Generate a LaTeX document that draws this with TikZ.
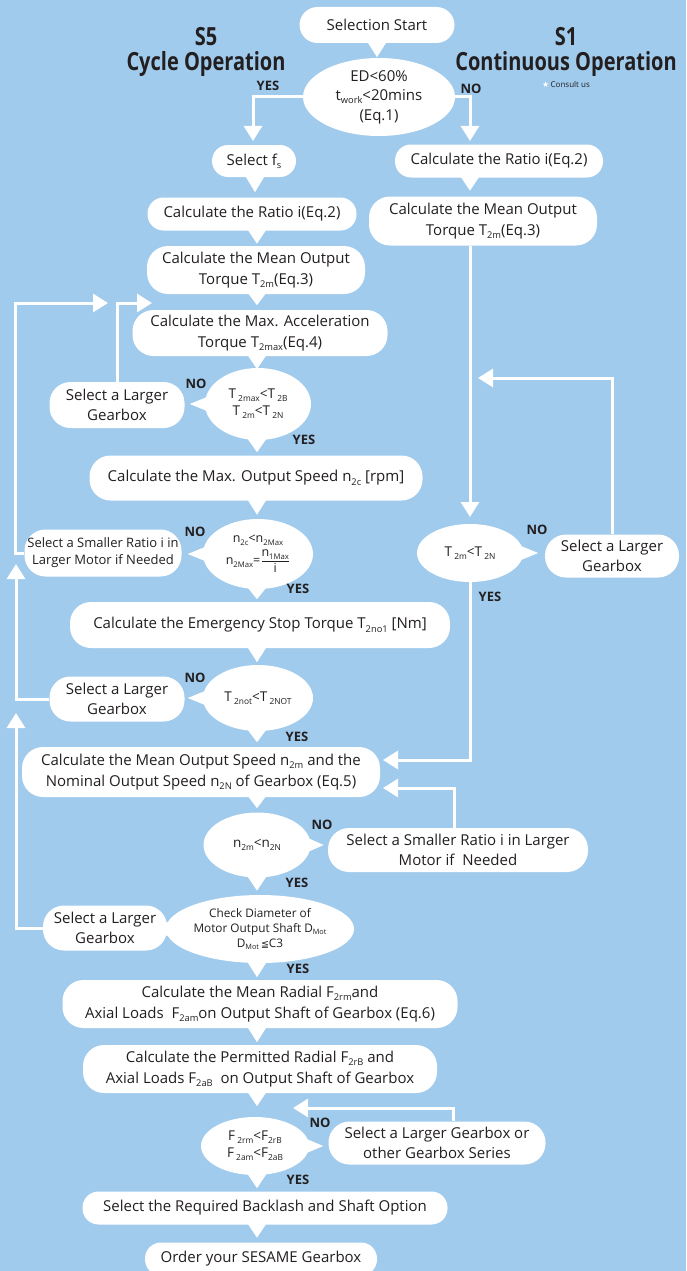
\documentclass[tikz,border=0pt]{standalone}
\usepackage{fontspec}
\usepackage{graphicx}
\setmainfont{Open Sans}
\newfontfamily\symfont{DejaVu Sans}
\usetikzlibrary{shapes.geometric,arrows.meta,calc}
\definecolor{bg}{RGB}{160,203,237}
\definecolor{ink}{RGB}{35,31,32}
\newcommand\lsub[1]{\raisebox{-0.4ex}{\scalebox{0.62}{#1}}}
\newcommand\pdn[3]{\fill[white] ($(#1.south -| #2)+(-12,-5)$) -- ($(#1.south -| #2)+(12,-5)$) -- ($(#1.south -| #2)+(0,#3)$) -- cycle;}
\newcommand\plt[2]{\fill[white] ($(#1.west)+(12,-11)$) -- ($(#1.west)+(12,11)$) -- ($(#1.west)+(-#2,0)$) -- cycle;}
\newcommand\prt[2]{\fill[white] ($(#1.east)+(-12,-11)$) -- ($(#1.east)+(-12,11)$) -- ($(#1.east)+(#2,0)$) -- cycle;}
\begin{document}
\begin{tikzpicture}[x=1pt,y=-1pt,
  pill/.style={rectangle, rounded corners=16pt, fill=white, text=ink, align=center, inner sep=0pt, font=\fontsize{15}{20.5}\selectfont},
  pillB/.style={pill, rounded corners=21pt},
  dec/.style={ellipse, fill=white, text=ink, align=center, inner sep=0pt, font=\fontsize{13.5}{17}\selectfont},
  lab/.style={text=ink, font=\bfseries\fontsize{13}{16}\selectfont, inner sep=0pt},
  ttl/.style={text=ink, font=\bfseries\fontsize{25}{25}\selectfont, inner sep=0pt, align=center},
  conn/.style={draw=white, line width=3pt},
  arr/.style={conn, -{Triangle[length=15pt,width=18pt]}}]
\fill[bg] (0,0) rectangle (686,1271);
\useasboundingbox (0,0) rectangle (686,1271);
\coordinate (cx) at (257,0);
\coordinate (cs) at (377,0);
\coordinate (cr) at (470,0);
\coordinate (cf) at (255,0);

% titles
\node[ttl] (s5) at (206,52) {\scalebox{0.8}[1]{S5}\\\scalebox{0.8}[1]{Cycle Operation}};
\node[ttl] (s1) at (566,52) {\scalebox{0.8}[1]{S1}\\\scalebox{0.8}[1]{Continuous Operation}};
\node[inner sep=0pt, font=\fontsize{8}{9}\selectfont, text=ink] (cons) at (566,85) {{\symfont\color{white}★}\,Consult us};

% left column / top
\node[pill, minimum width=155pt, minimum height=36pt, rounded corners=18pt] (start) at (377,25) {Selection Start};
\node[dec, minimum width=152pt, minimum height=78pt, font=\fontsize{15}{19.5}\selectfont] (e1) at (379,97) {ED<60\%\\t\lsub{work}<20mins\\(Eq.1)};
\node[pill, minimum width=84pt, minimum height=32pt] (fs) at (254,161) {Select f\lsub{s}};
\node[pill, minimum width=208pt, minimum height=33pt] (ratioR) at (499,161) {Calculate the Ratio i(Eq.2)};
\node[pill, minimum width=209pt, minimum height=33pt] (ratioL) at (252,214) {Calculate the Ratio i(Eq.2)};
\node[pillB, minimum width=228pt, minimum height=49pt] (meanR) at (483,221) {Calculate the Mean Output\\Torque T\lsub{2m}(Eq.3)};
\node[pillB, minimum width=218pt, minimum height=48pt] (meanL) at (256,270) {Calculate the Mean Output\\Torque T\lsub{2m}(Eq.3)};
\node[pillB, minimum width=255pt, minimum height=46pt] (maxacc) at (260,333) {Calculate the Max. Acceleration\\Torque T\lsub{2max}(Eq.4)};
\node[dec, minimum width=106pt, minimum height=72pt] (d1) at (258,404) {T\,\lsub{2max}<T\,\lsub{2B}\\T\,\lsub{2m}<T\,\lsub{2N}};
\node[pillB, minimum width=135pt, minimum height=46pt] (lg1) at (117,405) {Select a Larger\\Gearbox};
\node[pillB, minimum width=333pt, minimum height=45pt] (maxspd) at (256,478) {Calculate the Max. Output Speed n\lsub{2c} [rpm]};
\node[dec, minimum width=110pt, minimum height=70pt, font=\fontsize{12.5}{15}\selectfont] (d2) at (258,554) {n\lsub{2c}<n\lsub{2Max}\\[3pt]n\lsub{2Max}=$\displaystyle\frac{\hbox{n\lsub{1Max}}}{\hbox{i}}$};
\node[pillB, minimum width=157pt, minimum height=47pt, font=\fontsize{13}{17}\selectfont] (sr1) at (103,553) {Select a Smaller Ratio i in\\Larger Motor if Needed};
\node[pillB, minimum width=380pt, minimum height=46pt] (emst) at (260,625) {Calculate the Emergency Stop Torque T\lsub{2no1} [Nm]};
\node[dec, minimum width=110pt, minimum height=66pt] (d3) at (258,698) {T\,\lsub{2not}<T\,\lsub{2NOT}};
\node[pillB, minimum width=135pt, minimum height=45pt] (lg2) at (117,699) {Select a Larger\\Gearbox};
\node[pillB, minimum width=358pt, minimum height=50pt] (meanSpd) at (201,772) {Calculate the Mean Output Speed n\lsub{2m} and the\\Nominal Output Speed n\lsub{2N} of Gearbox (Eq.5)};
\node[dec, minimum width=107pt, minimum height=65pt] (d4) at (257,845) {n\lsub{2m}<n\lsub{2N}};
\node[pillB, minimum width=260pt, minimum height=44pt] (sr2) at (458,850) {Select a Smaller Ratio i in Larger\\Motor if\ \ Needed};
\node[dec, minimum width=124pt, minimum height=68pt, font=\fontsize{11.8}{15}\selectfont] (d5) at (260,929) {Check Diameter of\\Motor Output Shaft D\lsub{Mot}\\D\lsub{Mot}\,{\symfont\scalebox{0.8}{≦}}C3};
\node[pillB, minimum width=124pt, minimum height=45pt] (lg3) at (105,928) {Select a Larger\\Gearbox};
\node[pillB, minimum width=395pt, minimum height=48pt] (radial) at (260,1004) {Calculate the Mean Radial F\lsub{2rm}and\\Axial Loads\ \ F\lsub{2am}on Output Shaft of Gearbox (Eq.6)};
\node[pillB, minimum width=354pt, minimum height=48pt] (permitted) at (260,1069) {Calculate the Permitted Radial F\lsub{2rB} and\\Axial Loads F\lsub{2aB}\ \ on Output Shaft of Gearbox};
\node[dec, minimum width=108pt, minimum height=58pt] (d6) at (255,1146) {F\,\lsub{2rm}<F\lsub{2rB}\\F\,\lsub{2am}<F\lsub{2aB}};
\node[pillB, minimum width=217pt, minimum height=43pt] (lgS) at (437,1143) {Select a Larger Gearbox or\\other Gearbox Series};
\node[pill, minimum width=365pt, minimum height=33pt] (backlash) at (265,1208) {Select the Required Backlash and Shaft Option};
\node[pill, minimum width=232pt, minimum height=33pt] (order) at (261,1259) {Order your SESAME Gearbox};

% right column
\node[dec, minimum width=106pt, minimum height=58pt] (d7) at (470,553) {T\,\lsub{2m}<T\,\lsub{2N}};
\node[pillB, minimum width=134pt, minimum height=43pt] (lgR) at (612,556) {Select a Larger\\Gearbox};

% pointers
\pdn{start}{cs}{14}
\pdn{fs}{cf}{15}
\pdn{ratioR}{cr}{13}
\pdn{ratioL}{cx}{13}
\pdn{meanL}{cx}{11}
\pdn{maxacc}{cx}{13}
\pdn{d1}{cx}{12}
\plt{d1}{15}
\pdn{maxspd}{cx}{14}
\pdn{d2}{cx}{10}
\plt{d2}{15}
\pdn{emst}{cx}{14}
\pdn{d3}{cx}{11}
\plt{d3}{15}
\pdn{meanSpd}{cx}{11}
\pdn{d4}{cx}{13}
\prt{d4}{13}
\pdn{d5}{cx}{14}
\plt{d5}{16}
\pdn{radial}{cx}{14}
\pdn{permitted}{cx}{13}
\pdn{d6}{cx}{13}
\prt{d6}{14}
\pdn{backlash}{cx}{13}
\prt{d7}{15}

% connectors
\coordinate (t1) at (253,141);
\coordinate (t2) at (470,141);
\coordinate (t3) at (152,303);
\coordinate (t4) at (108,303);
\coordinate (t5) at (16,564);
\coordinate (t6) at (16,713);
\coordinate (t7) at (470,517);
\coordinate (t8) at (478,378);
\coordinate (t9) at (383,760);
\coordinate (t10) at (383,788);
\coordinate (t11) at (293,1108);
\draw[arr] (e1.west) -| (t1);
\draw[arr] (e1.east) -| (t2);
\draw[arr] (lg1.north) |- (t3);
\draw[arr] (sr1.west) -- ++(-9,0) |- (t4);
\draw[arr] (lg2.west) -| (t5);
\draw[arr] (lg3.west) -| (t6);
\draw[arr] (meanR.south -| t7) -- (t7);
\draw[arr] (lgR.north) |- (t8);
\draw[arr] (d7.south) |- (t9);
\draw[arr] ($(sr2.north)+(-4,0)$) |- (t10);
\draw[arr] ($(lgS.north)+(16,0)$) |- (t11);

% labels
\node[lab] (y1) at (268,86) {YES};
\node[lab] (n1) at (471,89) {NO};
\node[lab] (n2) at (196,384) {NO};
\node[lab] (y2) at (304,440) {YES};
\node[lab] (n3) at (195,532) {NO};
\node[lab] (y3) at (298,589) {YES};
\node[lab] (n4) at (195,678) {NO};
\node[lab] (y4) at (297,737) {YES};
\node[lab] (n5) at (537,530) {NO};
\node[lab] (y5) at (490,597) {YES};
\node[lab] (n6) at (322,825) {NO};
\node[lab] (y6) at (297,883) {YES};
\node[lab] (y7) at (298,969) {YES};
\node[lab] (n7) at (320,1123) {NO};
\node[lab] (y8) at (298,1180) {YES};
\end{tikzpicture}
\end{document}
